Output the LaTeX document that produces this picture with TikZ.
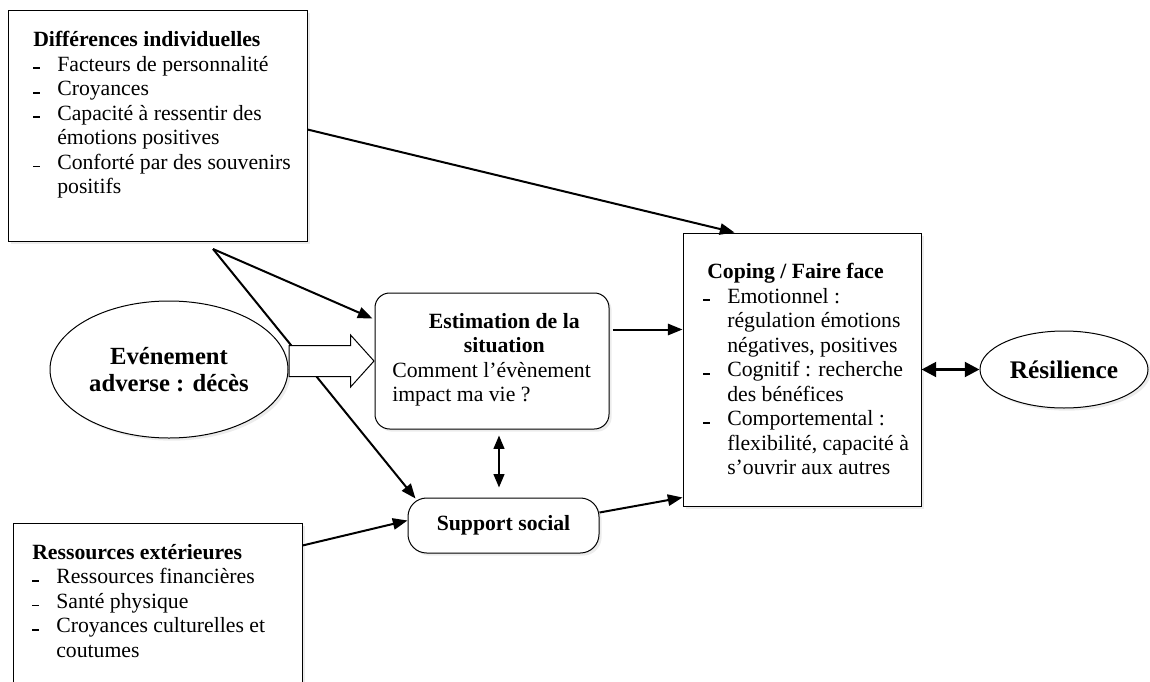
\documentclass[tikz,border=0pt]{standalone}
\usepackage{fontspec}
\setmainfont{Liberation Serif}
\usetikzlibrary{arrows.meta,shapes.geometric,shapes.arrows,shadows,fit,calc}

\newcommand{\tiret}{\makebox[18pt][l]{\rule[1.5pt]{5pt}{1.3pt}}}
\newcommand{\suite}{\hspace*{18pt}}

\begin{document}
\begin{tikzpicture}[x=0.75pt,y=0.75pt,yscale=-1,xscale=1,
    ombre/.style={drop shadow={opacity=0.15,shadow xshift=2pt,shadow yshift=-2pt}},
    cadre/.style={draw,line width=0.75pt,fill=white,inner sep=0pt,ombre},
    arrondi/.style={cadre,rounded corners=11pt},
    bulle/.style={ellipse,draw,line width=0.75pt,fill=white,inner sep=0pt,ombre},
    txt/.style={inner sep=0pt,align=left,font=\fontsize{16.3}{18.4}\selectfont},
    fleche/.style={line width=1.5pt,-{Triangle[length=11pt,width=8.5pt]}},
    double/.style={line width=1.5pt,{Triangle[length=10pt,width=8pt]}-{Triangle[length=10pt,width=8pt]}},
    grosse/.style={single arrow,draw,line width=0.75pt,fill=white,inner xsep=0pt,inner ysep=11.25pt,
        minimum height=63.75pt,single arrow head extend=7.9pt,single arrow tip angle=96}]
    \clip (0,0) rectangle (1150,682);

    %Shape: Rectangle
    \node[cadre,fit={(8,10) (307,241)}] (indiv) {};
    %Shape: Rectangle
    \node[cadre,fit={(13,523) (302,720)}] (ress) {};
    %Shape: Rectangle
    \node[cadre,fit={(683,233) (921,506)}] (cope) {};
    %Shape: Rounded Rect
    \node[arrondi,fit={(375,293) (609,429)}] (est) {};
    %Shape: Rounded Rect
    \node[arrondi,rounded corners=14pt,minimum width=143.25pt,minimum height=41.25pt,
        font=\fontsize{16.3}{18.4}\selectfont\bfseries] (sup) at (503.5,525.5) {Support social};
    %Shape: Ellipse
    \node[bulle,minimum width=178.5pt,minimum height=102.75pt,align=center,
        font=\fontsize{18.5}{20.25}\selectfont\bfseries] (evt) at (169,369.5) {Evénement\\adverse : décès};
    %Shape: Ellipse
    \node[bulle,minimum width=126pt,minimum height=57.75pt,
        font=\fontsize{19}{21}\selectfont\bfseries] (res) at (1064,369.5) {Résilience};

    \coordinate (fourche) at (213,249);

    %Straight Lines
    \draw[fleche] ($(indiv.north east)+(0,120)$) -- ($(cope.north west)+(52,0)$);
    \draw[fleche] (fourche) -- ($(est.north west)+(-2,26)$);
    \draw[fleche] (fourche) -- ($(sup.north west)+(8,1)$);
    \draw[fleche] ($(est.north east)+(3,37)$) -- ($(cope.north west)+(0,97)$);
    \draw[fleche] ($(sup.north east)+(0,15)$) -- ($(cope.south west)+(0,-9)$);
    \draw[fleche] ($(ress.north east)+(0,23)$) -- ($(sup.west)+(0,-5)$);
    \draw[double] ($(est.south)+(7,6)$) -- ($(sup.north)+(-4.5,-10)$);
    \draw[line width=2.2pt,{Triangle[length=11pt,width=11pt]}-{Triangle[length=11pt,width=11pt]}] (cope.east) -- (res.west);
    %Shape: Right Arrow
    \node[grosse,anchor=tail] (pousse) at ($(evt.east)+(0,-8.5)$) {};

    % Text Node
    \node[txt,anchor=north west] (indivtxt) at (33,31) {\textbf{Différences individuelles}\\
        \tiret Facteurs de personnalité\\
        \tiret Croyances\\
        \tiret Capacité à ressentir des\\
        \suite émotions positives\\
        \tiret Conforté par des souvenirs\\
        \suite positifs};
    % Text Node
    \node[txt,anchor=north west] (resstxt) at (32,544) {\textbf{Ressources extérieures}\\
        \tiret Ressources financières\\
        \tiret Santé physique\\
        \tiret Croyances culturelles et\\
        \suite coutumes};
    % Text Node
    \node[txt,anchor=north west] (esttxt) at (392,313) {\makebox[168pt]{\textbf{Estimation de la}}\\
        \makebox[168pt]{\textbf{situation}}\\
        Comment l’évènement\\
        impact ma vie ?};
    % Text Node
    \node[txt,anchor=north west] (copetxt) at (703,263) {\hspace*{3pt}\textbf{Coping / Faire face}\\
        \tiret Emotionnel :\\
        \suite régulation émotions\\
        \suite négatives, positives\\
        \tiret Cognitif : recherche\\
        \suite des bénéfices\\
        \tiret Comportemental :\\
        \suite flexibilité, capacité à\\
        \suite s’ouvrir aux autres};
\end{tikzpicture}
\end{document}
